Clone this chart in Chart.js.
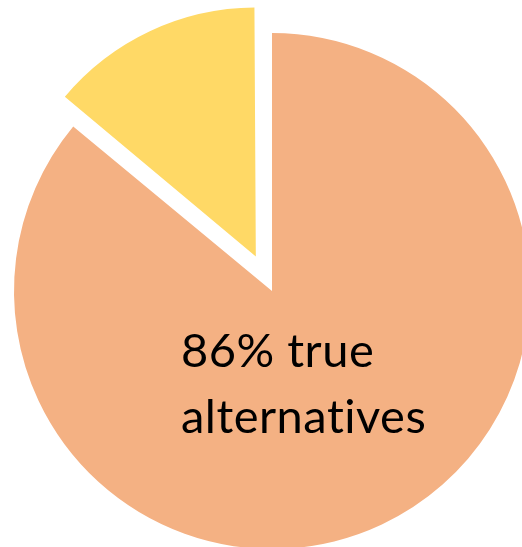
<!DOCTYPE html>
<html>
<head>
<meta charset="utf-8">
<script src="https://cdn.jsdelivr.net/npm/chart.js@4"></script>
<style>
html,body{margin:0;padding:0;width:522px;height:547px;overflow:hidden;background:#fff;}
#wrap{position:absolute;left:-88px;top:-69px;width:720px;height:720px;}
</style>
</head>
<body>
<div id="wrap"><canvas id="c" width="720" height="720"></canvas></div>
<script>
const categories = ["true alternatives", "other"];
const values = [86, 14];
const colors = ["#F4B183", "#FFD966"];
const offsets = [0, 152];
const labelLines = ["86% true", "alternatives"];

// exploded slice is drawn slightly smaller than the main slice, as in the reference
const explodePlugin = {
  id: 'explodeShrink',
  afterDatasetUpdate(chart) {
    const m = chart.getDatasetMeta(0);
    const base = m.data[0].outerRadius;
    const arc = m.data[1];
    const circ = arc.endAngle - arc.startAngle;
    const fix = 1 - Math.sin(Math.min(Math.PI, circ));
    const grow = (offsets[1] / 4) * fix;
    arc.outerRadius = base - 9 - grow;
  }
};

const textPlugin = {
  id: 'sliceText',
  afterDraw(chart) {
    const arc = chart.getDatasetMeta(0).data[0];
    const ctx = chart.ctx;
    ctx.save();
    ctx.fillStyle = '#000';
    ctx.textBaseline = 'alphabetic';
    ctx.textAlign = 'left';
    ctx.font = '47px Lato, "Open Sans", sans-serif';
    try { ctx.letterSpacing = '0.5px'; } catch (e) {}
    const x = arc.x - 91;
    ctx.fillText(labelLines[0], x, arc.y + 76);
    ctx.fillText(labelLines[1], x, arc.y + 142);
    ctx.restore();
  }
};

new Chart(document.getElementById('c'), {
  type: 'pie',
  data: {
    labels: categories,
    datasets: [{
      data: values,
      backgroundColor: colors,
      borderWidth: 0,
      offset: offsets,
      hoverOffset: 0
    }]
  },
  options: {
    responsive: false,
    animation: false,
    layout: { padding: 26 },
    plugins: { legend: { display: false }, tooltip: { enabled: false } }
  },
  plugins: [explodePlugin, textPlugin]
});
</script>
</body>
</html>
